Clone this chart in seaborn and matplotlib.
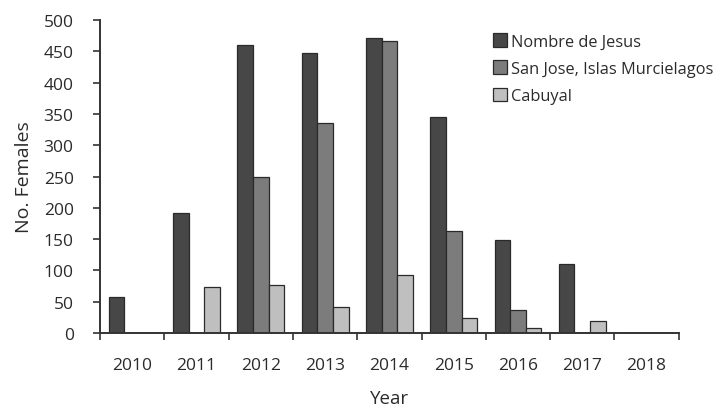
import pandas as pd
import matplotlib.pyplot as plt
import seaborn as sns
from matplotlib.ticker import FixedLocator

# Data
years = ['2010', '2011', '2012', '2013', '2014', '2015', '2016', '2017', '2018']
nombre_de_jesus = [57, 192, 461, 448, 471, 346, 149, 111, 0]
san_jose = [0, 0, 250, 336, 466, 163, 36, 0, 0]
cabuyal = [0, 73, 76, 42, 93, 24, 8, 19, 0]
site_names = ['Nombre de Jesus', 'San Jose, Islas Murcielagos', 'Cabuyal']

df = pd.DataFrame({
    'Year': years * 3,
    'Females': nombre_de_jesus + san_jose + cabuyal,
    'Site': [s for s in site_names for _ in years],
})

sns.set_style('ticks')
plt.rcParams['font.family'] = ['Open Sans', 'DejaVu Sans']
txt = '#2b2b2b'

fig = plt.figure(figsize=(7.27, 4.10), dpi=100)
ax = fig.add_axes([0.1376, 0.1854, 0.796, 0.763])

palette = ['#474747', '#7c7c7c', '#bfbfbf']
sns.barplot(data=df, x='Year', y='Females', hue='Site', palette=palette,
            width=0.73, edgecolor='#2a2a2a', linewidth=0.9, saturation=1,
            ax=ax)

ax.set_ylim(0, 500)
ax.set_xlim(-0.5, len(years) - 0.5)
ax.set_yticks(range(0, 501, 50))
ax.tick_params(axis='y', labelsize=12.5, length=5, width=1.2, color='#333333',
               labelcolor=txt, pad=14)
ax.tick_params(axis='x', which='major', length=0, labelsize=12.5, pad=17,
               labelcolor=txt)
ax.xaxis.set_minor_locator(FixedLocator([i - 0.5 for i in range(len(years) + 1)]))
ax.tick_params(axis='x', which='minor', length=5, width=1.2, color='#333333')

sns.despine(ax=ax)
for side in ['left', 'bottom']:
    ax.spines[side].set_linewidth(1.4)
    ax.spines[side].set_color('#333333')

ax.set_xlabel('Year', fontsize=13.5, color=txt, labelpad=12)
ax.set_ylabel('No. Females', fontsize=14, color=txt, labelpad=8)

ax.legend(loc='upper left', bbox_to_anchor=(0.653, 1.005), frameon=False,
          fontsize=11.8, handlelength=0.9, handleheight=0.9, handletextpad=0.2,
          labelspacing=0.65, labelcolor=txt)

fig.savefig('out.png', dpi=100)
